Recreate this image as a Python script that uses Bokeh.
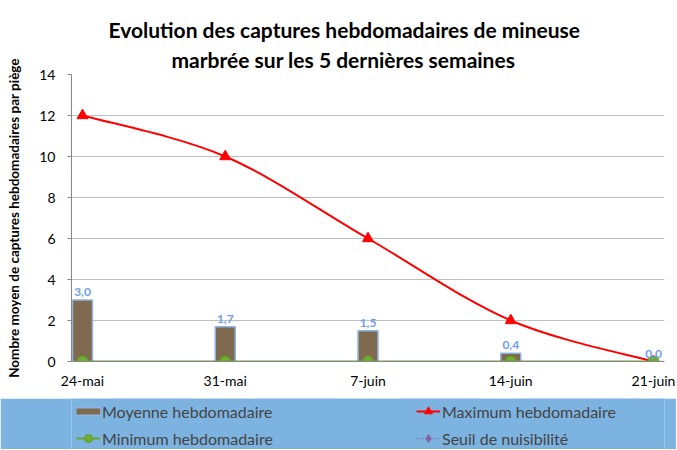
from bokeh.plotting import figure
from bokeh.models import ColumnDataSource, FixedTicker, Range1d, Legend, LegendItem, Title
from bokeh.layouts import column
from bokeh.core.properties import value
from bokeh.embed import file_html
from bokeh.resources import INLINE

# ---- data ----
weeks = ["24-mai", "31-mai", "7-juin", "14-juin", "21-juin"]
moyenne = [3.0, 1.7, 1.5, 0.4, 0.0]
maximum = [12, 10, 6, 2, 0]
minimum = [0, 0, 0, 0, 0]
seuil = [float("nan")] * 5  # no value plotted
y_ticks = [0, 2, 4, 6, 8, 10, 12, 14]

title_1 = "Evolution des captures hebdomadaires de mineuse"
title_2 = "marbrée sur les 5 dernières semaines"
y_label = "Nombre moyen de captures hebdomadaires par piège"
legend_labels = ["Moyenne hebdomadaire", "Maximum hebdomadaire",
                 "Minimum hebdomadaire", "Seuil de nuisibilité"]

FONT = "Lato"
BAR_FILL = "#7f6a50"
BAR_LINE = "#8db4e3"
RED = "#ff0000"
GREEN = "#6aa624"
GREEN_FILL = "#70ad30"
GREEN_EDGE = "#5f9a22"
PURPLE = "#8064a2"
LABEL_BLUE = "#6d9eeb"
BAND = "#7db3e1"

idx = list(range(len(weeks)))
src = ColumnDataSource(dict(x=idx, moy=moyenne, maxi=maximum, mini=minimum, seuil=seuil,
                            lab=[f"{v:.1f}".replace(".", ",") for v in moyenne]))

W = 676
p = figure(width=W, height=398, output_backend="svg", toolbar_location=None,
           x_range=Range1d(-0.077, 4.077), y_range=Range1d(0, 14),
           min_border_left=71, min_border_right=12, min_border_top=74,
           min_border_bottom=37, outline_line_color=None)
p.title.visible = False

p.add_layout(Title(text=title_2, align="left", offset=100, text_font=FONT,
                   text_font_size="21px", text_font_style="bold", text_color="#000000",
                   standoff=5), "above")
p.add_layout(Title(text=title_1, align="left", offset=37, text_font=FONT,
                   text_font_size="21px", text_font_style="bold", text_color="#000000",
                   standoff=2), "above")

# axes
p.xaxis.ticker = FixedTicker(ticks=idx)
p.xaxis.major_label_overrides = {i: w for i, w in zip(idx, weeks)}
p.xaxis.major_tick_out = 0
p.xaxis.major_tick_in = 0
p.xaxis.minor_tick_line_color = None
p.xaxis.major_label_standoff = 10
p.yaxis.ticker = FixedTicker(ticks=y_ticks)
p.yaxis.major_tick_out = 4
p.yaxis.major_tick_in = 0
p.yaxis.minor_tick_line_color = None
p.yaxis.major_label_standoff = 12
p.yaxis.axis_label = y_label
p.yaxis.axis_label_standoff = 14
p.yaxis.axis_label_text_font = FONT
p.yaxis.axis_label_text_font_size = "13.5px"
p.yaxis.axis_label_text_font_style = "bold"
p.yaxis.axis_label_text_color = "#000000"
for ax in (p.xaxis, p.yaxis):
    ax.axis_line_color = "#868686"
    ax.major_tick_line_color = "#868686"
    ax.major_label_text_font = FONT
    ax.major_label_text_font_size = "14px"
    ax.major_label_text_color = "#000000"
p.xgrid.visible = False
p.ygrid.ticker = FixedTicker(ticks=y_ticks)
p.ygrid.grid_line_color = "#bfbfbf"

# bars
p.vbar(x="x", top="moy", width=0.14, source=src, fill_color=BAR_FILL,
       line_color=BAR_LINE, line_width=1.5)

# smooth maximum curve (Catmull-Rom -> cubic Bezier)
n = len(idx)
x0, y0, x1, y1, cx0, cy0, cx1, cy1 = [], [], [], [], [], [], [], []
for i in range(n - 1):
    pm = max(i - 1, 0)
    pp = min(i + 2, n - 1)
    x0.append(idx[i]); y0.append(maximum[i])
    x1.append(idx[i + 1]); y1.append(maximum[i + 1])
    cx0.append(idx[i] + (idx[i + 1] - idx[pm]) / 6)
    cy0.append(maximum[i] + (maximum[i + 1] - maximum[pm]) / 6)
    cx1.append(idx[i + 1] - (idx[pp] - idx[i]) / 6)
    cy1.append(maximum[i + 1] - (maximum[pp] - maximum[i]) / 6)
p.bezier(x0=x0, y0=y0, x1=x1, y1=y1, cx0=cx0, cy0=cy0, cx1=cx1, cy1=cy1,
         line_color=RED, line_width=2)
p.scatter(x="x", y="maxi", source=src, marker="triangle", size=11,
          fill_color=RED, line_color=RED)

# minimum
p.line(x="x", y="mini", source=src, line_color=GREEN, line_width=2)
p.scatter(x="x", y="mini", source=src, marker="circle", size=11,
          fill_color=GREEN_FILL, line_color=GREEN_EDGE)

# seuil (no values)
p.line(x="x", y="seuil", source=src, line_color=PURPLE, line_width=1.5, line_dash="1 2")

# data labels
p.text(x="x", y="moy", text="lab", source=src, text_align="center",
       text_baseline="bottom", y_offset=-4, text_font=value(FONT),
       text_font_size="12px", text_font_style="bold", text_color=LABEL_BLUE)

# ---- legend band (same series, drawn out of view: only their legend shows) ----
lg = figure(width=W, height=51, output_backend="svg", toolbar_location=None,
            x_range=Range1d(100, 101), y_range=Range1d(100, 101), min_border=0,
            background_fill_color=BAND, border_fill_color=BAND,
            outline_line_color=None)
lg.axis.visible = False
lg.grid.visible = False
# bar swatch: brown block with light-blue edge
r_bar_edge = lg.line(x="x", y="moy", source=src, line_color=BAR_LINE, line_width=9)
r_bar_fill = lg.line(x="x", y="moy", source=src, line_color=BAR_FILL, line_width=6)
r_maxl = lg.line(x="x", y="maxi", source=src, line_color=RED, line_width=2)
r_maxm = lg.scatter(x="x", y="maxi", source=src, marker="triangle", size=11,
                    fill_color=RED, line_color=RED)
r_minl = lg.line(x="x", y="mini", source=src, line_color=GREEN, line_width=2)
r_minm = lg.scatter(x="x", y="mini", source=src, marker="circle", size=10,
                    fill_color=GREEN_FILL, line_color=GREEN_EDGE)
r_sl = lg.line(x="x", y="seuil", source=src, line_color=PURPLE, line_width=1.5,
               line_dash="1 2")
r_sm = lg.scatter(x="x", y="seuil", source=src, marker="diamond", size=10,
                  fill_color=PURPLE, line_color=PURPLE)

legend = Legend(items=[
    LegendItem(label=legend_labels[0], renderers=[r_bar_edge, r_bar_fill]),
    LegendItem(label=legend_labels[1], renderers=[r_maxl, r_maxm]),
    LegendItem(label=legend_labels[2], renderers=[r_minl, r_minm]),
    LegendItem(label=legend_labels[3], renderers=[r_sl, r_sm]),
], location=(5, 1), orientation="horizontal", ncols=2,
    background_fill_alpha=0, border_line_color=None,
    label_text_font=FONT, label_text_font_size="16px",
    glyph_width=24, glyph_height=20, label_height=20, label_width=307,
    spacing=7, padding=0, margin=0, label_standoff=2)
lg.add_layout(legend, "center")

layout = column(p, lg, spacing=0)
open("out.html", "w").write(file_html(layout, INLINE))
